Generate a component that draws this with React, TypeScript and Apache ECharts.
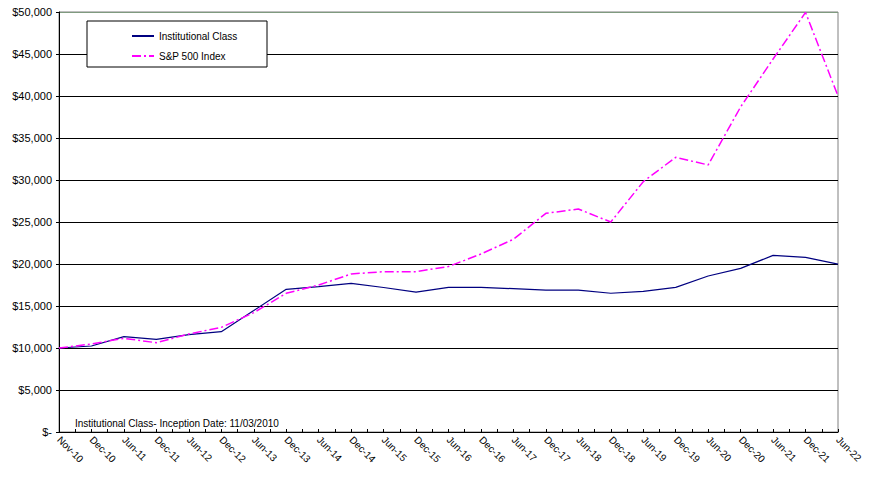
import React, { useEffect, useRef } from "react";
import * as echarts from "echarts";

const categories = [
  "Nov-10", "Dec-10", "Jun-11", "Dec-11", "Jun-12", "Dec-12", "Jun-13", "Dec-13",
  "Jun-14", "Dec-14", "Jun-15", "Dec-15", "Jun-16", "Dec-16", "Jun-17", "Dec-17",
  "Jun-18", "Dec-18", "Jun-19", "Dec-19", "Jun-20", "Dec-20", "Jun-21", "Dec-21", "Jun-22",
];

const institutionalClass = [
  10000, 10240, 11350, 11030, 11600, 11940, 14450, 16990,
  17300, 17700, 17200, 16650, 17220, 17220, 17060, 16900,
  16900, 16520, 16740, 17220, 18570, 19480, 21030, 20790, 19980,
];

const sp500Index = [
  10000, 10480, 11150, 10630, 11670, 12460, 14210, 16510,
  17500, 18810, 19090, 19090, 19700, 21190, 22940, 26030,
  26550, 25000, 29800, 32700, 31790, 38700, 44400, 49950, 40000,
];

const yTicks = [0, 5000, 10000, 15000, 20000, 25000, 30000, 35000, 40000, 45000, 50000];

const footnote = "Institutional Class- Inception Date: 11/03/2010";

const FONT = "'Liberation Sans', Arial, sans-serif";

export default function App() {
  const ref = useRef<HTMLDivElement>(null);
  useEffect(() => {
    if (!ref.current) return;
    const chart = echarts.init(ref.current, undefined, { renderer: "svg" });
    const splitColors = yTicks.map((_, i) => (i === yTicks.length - 1 ? "#7f9a7f" : "#000000"));
    chart.setOption({
      animation: false,
      textStyle: { fontFamily: FONT },
      grid: {
        left: 59, right: 43, top: 12, bottom: 49,
        show: true, borderColor: "#808080", borderWidth: 1, backgroundColor: "#ffffff",
      },
      xAxis: {
        type: "value",
        min: 0,
        max: categories.length - 1,
        interval: 1,
        axisLine: { show: true, lineStyle: { color: "#000", width: 1 } },
        axisTick: { show: true, inside: true, length: 3, lineStyle: { color: "#000" } },
        minorTick: { show: true, splitNumber: 2, length: 3, lineStyle: { color: "#000" } },
        splitLine: { show: false },
        minorSplitLine: { show: false },
        axisLabel: {
          rotate: -45,
          fontSize: 10,
          color: "#000",
          fontFamily: FONT,
          margin: 6,
          formatter: (v: number) => categories[Math.round(v)] ?? "",
        },
      },
      yAxis: {
        type: "value",
        min: 0,
        max: 50000,
        interval: 5000,
        axisLine: { show: true, lineStyle: { color: "#000", width: 1 } },
        axisTick: { show: true, length: 3, lineStyle: { color: "#000" } },
        splitLine: { show: true, lineStyle: { color: splitColors, width: 1 } },
        axisLabel: {
          fontSize: 11,
          color: "#000",
          fontFamily: FONT,
          margin: 7,
          formatter: (v: number) => (v === 0 ? "$-" : "$" + v.toLocaleString("en-US")),
        },
      },
      legend: {
        orient: "vertical",
        left: 126,
        top: 26,
        itemWidth: 22,
        itemHeight: 12,
        itemGap: 10,
        z: 20,
        itemStyle: { opacity: 0 },
        textStyle: { fontSize: 10, color: "#000", fontFamily: FONT },
        data: ["Institutional Class", "S&P 500 Index"],
      },
      graphic: [
        {
          type: "rect",
          z: 10,
          shape: { x: 87, y: 21, width: 180, height: 46 },
          style: { fill: "#ffffff", stroke: "#000000", lineWidth: 1 },
        },
        {
          type: "text",
          z: 10,
          x: 75,
          y: 423,
          style: {
            text: footnote,
            fontSize: 10,
            fontFamily: FONT,
            fill: "#000",
            verticalAlign: "middle",
          },
        },
      ],
      series: [
        {
          name: "Institutional Class",
          type: "line",
          symbol: "none",
          data: institutionalClass.map((v, i) => [i, v]),
          lineStyle: { color: "#000080", width: 1.2 },
          itemStyle: { color: "#000080" },
          z: 3,
        },
        {
          name: "S&P 500 Index",
          type: "line",
          symbol: "none",
          data: sp500Index.map((v, i) => [i, v]),
          lineStyle: { color: "#ff00ff", width: 1.5, type: [9, 3, 2, 3] },
          itemStyle: { color: "#ff00ff" },
          z: 4,
        },
      ],
    });
    return () => chart.dispose();
  }, []);
  return <div ref={ref} style={{ width: 881, height: 481, position: "absolute", left: 0, top: 0 }} />;
}
